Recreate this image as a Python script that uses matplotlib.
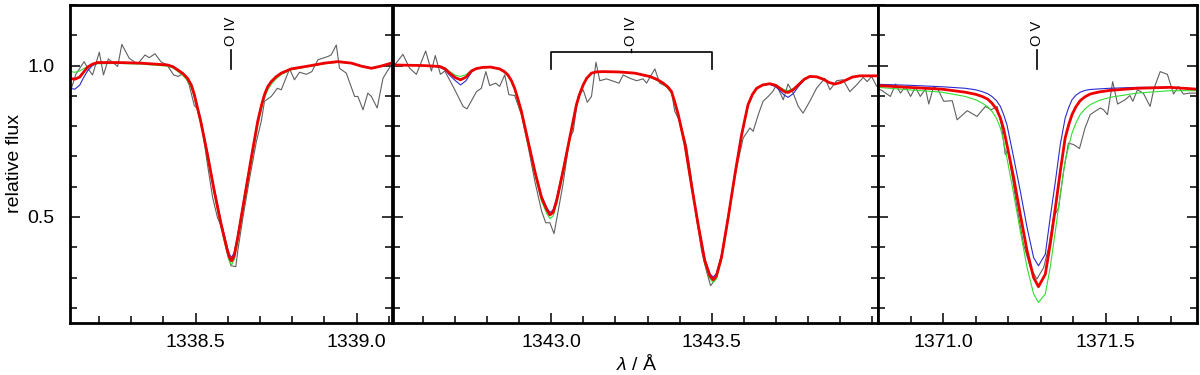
import numpy as np
import matplotlib
matplotlib.use('Agg')
import matplotlib.pyplot as plt
from matplotlib.ticker import MultipleLocator, FixedLocator, FormatStrFormatter

plt.rcParams['font.family'] = ['Liberation Sans', 'DejaVu Sans']
plt.rcParams['mathtext.fontset'] = 'custom'
plt.rcParams['mathtext.it'] = 'Liberation Sans:italic'
plt.rcParams['mathtext.rm'] = 'Liberation Sans'

# ---- panel 1 : O IV 1338.6
w1 = [1338.109, 1338.125, 1338.140, 1338.152, 1338.165, 1338.180, 1338.196, 1338.260, 1338.330, 1338.413,
      1338.430, 1338.444, 1338.460, 1338.475, 1338.487, 1338.496, 1338.516, 1338.537, 1338.558, 1338.579,
      1338.599, 1338.605, 1338.612, 1338.620, 1338.631, 1338.652, 1338.673, 1338.693, 1338.705, 1338.714,
      1338.724, 1338.735, 1338.750, 1338.766, 1338.797, 1338.859, 1338.900, 1338.942, 1338.984, 1339.015,
      1339.046, 1339.075, 1339.108]
red1 = [0.958, 0.955, 0.962, 0.978, 0.995, 1.005, 1.010, 1.010, 1.008, 1.002,
        0.996, 0.986, 0.974, 0.958, 0.935, 0.904, 0.816, 0.706, 0.586, 0.477,
        0.388, 0.366, 0.355, 0.372, 0.432, 0.564, 0.695, 0.816, 0.870, 0.904,
        0.930, 0.947, 0.963, 0.975, 0.989, 1.000, 1.008, 1.013, 1.008, 0.998,
        0.991, 0.998, 1.008]
blue1 = [0.925, 0.922, 0.935, 0.960, 0.983, 1.000, 1.008, 1.010, 1.008, 1.002,
         0.996, 0.987, 0.975, 0.960, 0.937, 0.908, 0.822, 0.713, 0.594, 0.486,
         0.398, 0.377, 0.366, 0.383, 0.442, 0.572, 0.701, 0.820, 0.873, 0.906,
         0.931, 0.948, 0.963, 0.975, 0.989, 1.000, 1.008, 1.013, 1.008, 0.999,
         0.992, 0.998, 1.008]
green1 = [0.980, 0.978, 0.982, 0.990, 0.996, 1.003, 1.006, 1.007, 1.005, 0.998,
          0.992, 0.981, 0.968, 0.950, 0.926, 0.895, 0.806, 0.697, 0.576, 0.466,
          0.376, 0.353, 0.342, 0.359, 0.418, 0.548, 0.680, 0.802, 0.858, 0.893,
          0.920, 0.938, 0.956, 0.970, 0.986, 0.998, 1.006, 1.011, 1.007, 0.997,
          0.990, 0.997, 1.007]
obs_w1 = [1338.103, 1338.113, 1338.128, 1338.154, 1338.165, 1338.180, 1338.201, 1338.214, 1338.229, 1338.258,
          1338.271, 1338.294, 1338.320, 1338.343, 1338.356, 1338.374, 1338.392, 1338.411, 1338.432, 1338.446,
          1338.463, 1338.480, 1338.496, 1338.506, 1338.522, 1338.537, 1338.553, 1338.568, 1338.581, 1338.594,
          1338.610, 1338.625, 1338.631, 1338.647, 1338.668, 1338.689, 1338.704, 1338.714, 1338.735, 1338.754,
          1338.766, 1338.792, 1338.807, 1338.823, 1338.844, 1338.861, 1338.880, 1338.911, 1338.921, 1338.937,
          1338.947, 1338.968, 1338.994, 1339.004, 1339.020, 1339.035, 1339.046, 1339.064, 1339.082, 1339.098,
          1339.108]
obs_f1 = [0.843, 0.920, 0.971, 1.013, 0.991, 0.969, 1.044, 0.969, 1.022, 0.997,
          1.070, 1.024, 1.005, 1.035, 1.026, 1.039, 1.013, 1.002, 0.969, 0.964,
          0.975, 0.936, 0.868, 0.857, 0.783, 0.673, 0.564, 0.498, 0.465, 0.399,
          0.339, 0.336, 0.388, 0.498, 0.629, 0.750, 0.816, 0.882, 0.898, 0.925,
          0.920, 0.989, 0.953, 0.978, 0.971, 0.980, 1.019, 1.030, 1.035, 1.068,
          0.991, 0.975, 0.898, 0.898, 0.854, 0.909, 0.898, 0.860, 0.958, 0.986,
          1.002]

# ---- panel 2 : O IV 1343.0 / 1343.5
w2 = [1342.505, 1342.600, 1342.651, 1342.668, 1342.682, 1342.700, 1342.716, 1342.733, 1342.750, 1342.765,
      1342.786, 1342.810, 1342.838, 1342.853, 1342.864, 1342.875, 1342.885, 1342.895, 1342.906, 1342.927,
      1342.948, 1342.969, 1342.985, 1342.995, 1343.005, 1343.016, 1343.036, 1343.057, 1343.078, 1343.088,
      1343.099, 1343.110, 1343.125, 1343.140, 1343.161, 1343.210, 1343.260, 1343.307, 1343.330, 1343.349,
      1343.363, 1343.375, 1343.385, 1343.396, 1343.417, 1343.437, 1343.458, 1343.479, 1343.495, 1343.505,
      1343.515, 1343.531, 1343.552, 1343.573, 1343.594, 1343.614, 1343.628, 1343.641, 1343.660, 1343.682,
      1343.700, 1343.713, 1343.726, 1343.739, 1343.755, 1343.771, 1343.790, 1343.807, 1343.828, 1343.849,
      1343.867, 1343.885, 1343.903, 1343.922, 1343.940, 1343.963, 1344.020]
red2 = [1.002, 1.000, 0.997, 0.989, 0.975, 0.960, 0.953, 0.962, 0.982, 0.990,
        0.994, 0.995, 0.989, 0.980, 0.969, 0.950, 0.925, 0.890, 0.849, 0.750,
        0.651, 0.564, 0.525, 0.507, 0.515, 0.553, 0.651, 0.761, 0.871, 0.906,
        0.936, 0.958, 0.975, 0.979, 0.980, 0.979, 0.975, 0.964, 0.954, 0.942,
        0.930, 0.914, 0.880, 0.838, 0.739, 0.608, 0.476, 0.355, 0.305, 0.293,
        0.305, 0.366, 0.498, 0.640, 0.772, 0.871, 0.905, 0.925, 0.936, 0.940,
        0.935, 0.925, 0.915, 0.911, 0.920, 0.936, 0.955, 0.964, 0.963, 0.955,
        0.944, 0.939, 0.944, 0.953, 0.962, 0.966, 0.966]
blue2 = [1.002, 1.000, 0.995, 0.985, 0.968, 0.950, 0.936, 0.950, 0.978, 0.989,
         0.994, 0.995, 0.989, 0.980, 0.969, 0.951, 0.926, 0.891, 0.851, 0.753,
         0.655, 0.570, 0.532, 0.515, 0.523, 0.561, 0.657, 0.764, 0.872, 0.906,
         0.936, 0.958, 0.975, 0.979, 0.980, 0.979, 0.975, 0.964, 0.954, 0.942,
         0.930, 0.914, 0.881, 0.839, 0.741, 0.612, 0.482, 0.362, 0.313, 0.301,
         0.313, 0.374, 0.505, 0.645, 0.775, 0.872, 0.905, 0.925, 0.936, 0.938,
         0.930, 0.918, 0.903, 0.895, 0.907, 0.930, 0.953, 0.964, 0.963, 0.955,
         0.944, 0.939, 0.944, 0.953, 0.962, 0.966, 0.966]
green2 = [1.002, 1.000, 0.998, 0.992, 0.980, 0.968, 0.964, 0.970, 0.984, 0.990,
          0.993, 0.994, 0.987, 0.977, 0.965, 0.945, 0.919, 0.882, 0.840, 0.740,
          0.640, 0.552, 0.512, 0.495, 0.503, 0.542, 0.640, 0.752, 0.864, 0.900,
          0.932, 0.955, 0.973, 0.978, 0.979, 0.978, 0.974, 0.962, 0.951, 0.939,
          0.925, 0.909, 0.873, 0.830, 0.728, 0.596, 0.465, 0.345, 0.295, 0.284,
          0.295, 0.357, 0.488, 0.630, 0.764, 0.866, 0.902, 0.922, 0.936, 0.940,
          0.936, 0.929, 0.921, 0.917, 0.924, 0.938, 0.955, 0.964, 0.963, 0.955,
          0.944, 0.939, 0.944, 0.953, 0.962, 0.966, 0.966]
obs_w2 = [1342.495, 1342.510, 1342.536, 1342.557, 1342.578, 1342.607, 1342.625, 1342.637, 1342.653, 1342.667,
          1342.698, 1342.724, 1342.736, 1342.766, 1342.781, 1342.795, 1342.807, 1342.826, 1342.838, 1342.854,
          1342.867, 1342.885, 1342.906, 1342.927, 1342.948, 1342.969, 1342.982, 1342.995, 1343.008, 1343.021,
          1343.036, 1343.057, 1343.068, 1343.083, 1343.099, 1343.112, 1343.125, 1343.139, 1343.151, 1343.172,
          1343.211, 1343.224, 1343.245, 1343.266, 1343.286, 1343.297, 1343.323, 1343.338, 1343.359, 1343.375,
          1343.385, 1343.401, 1343.422, 1343.437, 1343.453, 1343.469, 1343.484, 1343.497, 1343.516, 1343.536,
          1343.557, 1343.578, 1343.599, 1343.620, 1343.630, 1343.646, 1343.661, 1343.677, 1343.691, 1343.703,
          1343.724, 1343.739, 1343.755, 1343.771, 1343.786, 1343.807, 1343.828, 1343.854, 1343.870, 1343.891,
          1343.911, 1343.932, 1343.953, 1343.974, 1343.986, 1344.000, 1344.016]
obs_f2 = [1.035, 1.002, 1.037, 0.991, 0.971, 1.048, 0.982, 1.033, 0.971, 0.982,
          0.920, 0.865, 0.857, 0.914, 0.925, 0.980, 0.934, 0.942, 0.931, 0.969,
          0.904, 0.901, 0.838, 0.734, 0.618, 0.520, 0.481, 0.481, 0.445, 0.520,
          0.608, 0.761, 0.783, 0.898, 0.920, 0.879, 0.898, 1.011, 0.950, 0.956,
          0.942, 0.969, 0.958, 0.950, 0.956, 0.942, 0.989, 0.942, 0.931, 0.914,
          0.849, 0.816, 0.734, 0.629, 0.498, 0.388, 0.322, 0.273, 0.300, 0.399,
          0.531, 0.662, 0.761, 0.794, 0.783, 0.838, 0.882, 0.898, 0.914, 0.936,
          0.887, 0.939, 0.909, 0.865, 0.843, 0.882, 0.925, 0.958, 0.920, 0.950,
          0.953, 0.914, 0.936, 0.961, 0.947, 0.964, 0.931]

# ---- panel 3 : O V 1371.3
w3 = [1370.800, 1370.894, 1370.997, 1371.068, 1371.100, 1371.120, 1371.137, 1371.150, 1371.164, 1371.176,
      1371.186, 1371.196, 1371.217, 1371.237, 1371.258, 1371.278, 1371.293, 1371.314, 1371.329, 1371.345,
      1371.360, 1371.375, 1371.386, 1371.396, 1371.408, 1371.421, 1371.436, 1371.452, 1371.480, 1371.513,
      1371.595, 1371.697, 1371.780]
red3 = [0.934, 0.928, 0.922, 0.912, 0.905, 0.898, 0.889, 0.876, 0.856, 0.827,
        0.790, 0.739, 0.629, 0.509, 0.388, 0.300, 0.270, 0.311, 0.410, 0.531,
        0.651, 0.761, 0.805, 0.838, 0.864, 0.884, 0.897, 0.906, 0.913, 0.918,
        0.925, 0.928, 0.922]
blue3 = [0.938, 0.935, 0.930, 0.925, 0.920, 0.914, 0.907, 0.898, 0.884, 0.865,
         0.838, 0.805, 0.695, 0.586, 0.465, 0.366, 0.339, 0.377, 0.498, 0.618,
         0.739, 0.827, 0.862, 0.887, 0.902, 0.912, 0.918, 0.921, 0.923, 0.925,
         0.928, 0.928, 0.923]
green3 = [0.928, 0.920, 0.912, 0.898, 0.887, 0.876, 0.864, 0.849, 0.826, 0.794,
          0.750, 0.695, 0.575, 0.454, 0.333, 0.246, 0.218, 0.246, 0.333, 0.454,
          0.575, 0.684, 0.734, 0.777, 0.810, 0.838, 0.857, 0.871, 0.885, 0.895,
          0.909, 0.917, 0.917]
obs_w3 = [1370.792, 1370.813, 1370.838, 1370.854, 1370.869, 1370.884, 1370.900, 1370.915, 1370.930, 1370.946,
          1370.956, 1370.971, 1370.985, 1371.002, 1371.028, 1371.043, 1371.074, 1371.104, 1371.130, 1371.148,
          1371.166, 1371.179, 1371.191, 1371.199, 1371.212, 1371.227, 1371.247, 1371.268, 1371.288, 1371.309,
          1371.324, 1371.339, 1371.355, 1371.370, 1371.385, 1371.401, 1371.419, 1371.436, 1371.452, 1371.467,
          1371.483, 1371.493, 1371.505, 1371.521, 1371.536, 1371.559, 1371.574, 1371.583, 1371.597, 1371.615,
          1371.636, 1371.648, 1371.667, 1371.689, 1371.708, 1371.723, 1371.738, 1371.758, 1371.779]
obs_f3 = [0.928, 0.917, 0.898, 0.939, 0.909, 0.931, 0.898, 0.928, 0.898, 0.923,
          0.873, 0.931, 0.920, 0.882, 0.884, 0.821, 0.851, 0.832, 0.865, 0.854,
          0.865, 0.805, 0.706, 0.723, 0.635, 0.531, 0.410, 0.333, 0.295, 0.333,
          0.399, 0.498, 0.531, 0.651, 0.744, 0.739, 0.726, 0.794, 0.838, 0.849,
          0.860, 0.854, 0.838, 0.947, 0.873, 0.887, 0.901, 0.882, 0.920, 0.909,
          0.865, 0.925, 0.980, 0.971, 0.906, 0.931, 0.906, 0.909, 0.909]

xlims = [(1338.11, 1339.11), (1342.505, 1344.02), (1370.80, 1371.78)]
xmajor = [[1338.5, 1339.0], [1343.0, 1343.5], [1371.0, 1371.5]]
ion_names = ['O IV', 'O IV', 'O V']
ion_waves = [[1338.61], [1343.0, 1343.5], [1371.29]]

panels = [(w1, red1, blue1, green1, obs_w1, obs_f1),
          (w2, red2, blue2, green2, obs_w2, obs_f2),
          (w3, red3, blue3, green3, obs_w3, obs_f3)]

fig = plt.figure(figsize=(12, 3.75), dpi=100)
boxes = [[70/1200, 0.1387, 322/1200, 0.848],
         [393/1200, 0.1387, 485/1200, 0.848],
         [878/1200, 0.1387, 319/1200, 0.848]]

for i, (w, r, b, g, ow, of) in enumerate(panels):
    ax = fig.add_axes(boxes[i])
    kw = dict(solid_joinstyle='round', solid_capstyle='round')
    ax.plot(ow, of, color='#606060', lw=0.8, **kw)
    ax.plot(w, g, color='#33dd33', lw=0.8, **kw)
    ax.plot(w, b, color='#2a2ad0', lw=0.8, **kw)
    ax.plot(w, r, color='#ee0000', lw=2.0, **kw)
    ax.set_xlim(*xlims[i])
    ax.set_ylim(0.15, 1.2)
    ax.xaxis.set_major_locator(FixedLocator(xmajor[i]))
    ax.xaxis.set_minor_locator(MultipleLocator(0.1))
    ax.xaxis.set_major_formatter(FormatStrFormatter('%.1f'))
    ax.yaxis.set_major_locator(MultipleLocator(0.5))
    ax.yaxis.set_minor_locator(MultipleLocator(0.1))
    ax.yaxis.set_major_formatter(FormatStrFormatter('%.1f'))
    ax.tick_params(which='both', direction='in', left=True, right=True, top=False,
                   width=1.1, labelsize=14)
    ax.tick_params(axis='x', pad=8)
    ax.tick_params(axis='y', pad=11)
    ax.tick_params(which='major', length=7)
    ax.tick_params(which='minor', length=5)
    if i > 0:
        ax.tick_params(labelleft=False)
    for sp in ax.spines.values():
        sp.set_linewidth(2.0)

    # line identification marks
    lw_ = ion_waves[i]
    if len(lw_) == 1:
        ax.plot([lw_[0], lw_[0]], [0.99, 1.05], color='k', lw=1.2)
        xt = lw_[0]
    else:
        ax.plot([lw_[0], lw_[0], lw_[1], lw_[1]], [0.987, 1.046, 1.046, 0.987], color='k', lw=1.2)
        xt = 0.5 * (lw_[0] + lw_[1])
        ax.plot([xt, xt], [1.046, 1.056], color='k', lw=1.0)
    ax.text(xt, 1.064, ion_names[i], rotation=90, ha='center', va='bottom', fontsize=10.5)

fig.text(0.0125, 0.565, 'relative flux', rotation=90, ha='center', va='center', fontsize=14)
fig.text(0.531, 0.03, r'$\lambda$ / Å', ha='center', va='center', fontsize=14)

fig.savefig('out.png', dpi=100)
